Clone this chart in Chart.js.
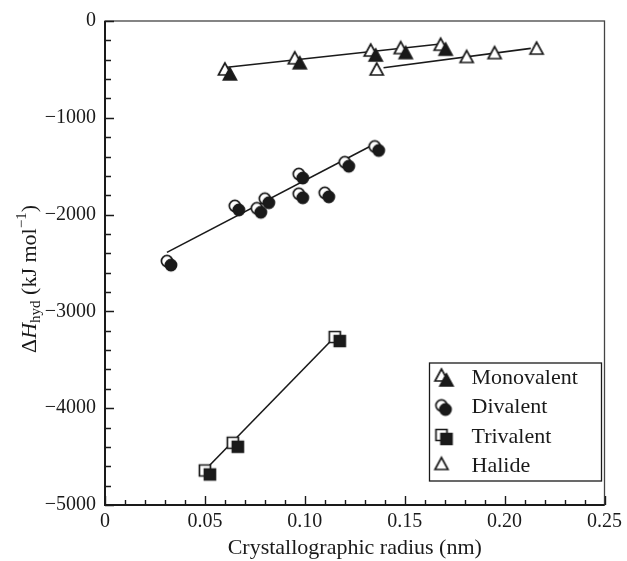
<!DOCTYPE html>
<html>
<head>
<meta charset="utf-8">
<script src="https://cdn.jsdelivr.net/npm/chart.js@4.4.0/dist/chart.umd.min.js"></script>
<style>
    html, body { margin: 0; padding: 0; background: #fff; }
    #wrap { width: 627px; height: 561px; position: relative; }
</style>
</head>
<body>
<div id="wrap"><canvas id="hydChart"></canvas></div>
<script>
// Hydration enthalpy vs crystallographic radius

const seriesNames = ['Monovalent', 'Divalent', 'Trivalent', 'Halide'];

const monoRadius = [0.060, 0.095, 0.133, 0.148, 0.168];
const monoEnthalpy = [-505, -390, -310, -285, -250];

const diRadius = [0.031, 0.065, 0.076, 0.080, 0.097, 0.097, 0.110, 0.120, 0.135];
const diEnthalpy = [-2480, -1910, -1935, -1836, -1581, -1785, -1775, -1459, -1296];

const triRadius = [0.050, 0.064, 0.115];
const triEnthalpy = [-4643, -4357, -3265];

const halRadius = [0.136, 0.181, 0.195, 0.216];
const halEnthalpy = [-506, -377, -337, -290];

// straight fit lines, end points
const monoFitX = [0.060, 0.169];
const monoFitY = [-480, -235];
const diFitX = [0.031, 0.1335];
const diFitY = [-2390, -1286];
const triFitX = [0.0513, 0.1135];
const triFitY = [-4612, -3295];
const halFitX = [0.1394, 0.2131];
const halFitY = [-483, -283];

const xTicks = [0, 0.05, 0.10, 0.15, 0.20, 0.25];
const yTicks = [0, -1000, -2000, -3000, -4000, -5000];

const FONT = "'Liberation Serif', 'Times New Roman', serif";
const INK = '#1a1a1a';

function pairs(xs, ys) {
    return xs.map((x, i) => ({ x: x, y: ys[i] }));
}

// marker: open shape at the point, filled copy offset down-right
function shapePath(ctx, shape, cx, cy) {
    ctx.beginPath();
    if (shape === 'triangle') {
        ctx.moveTo(cx, cy - 7);
        ctx.lineTo(cx - 6.5, cy + 5);
        ctx.lineTo(cx + 6.5, cy + 5);
        ctx.closePath();
    } else if (shape === 'circle') {
        ctx.arc(cx, cy, 5.6, 0, Math.PI * 2);
    } else {
        ctx.rect(cx - 5.5, cy - 5.5, 11, 11);
    }
}

function makeMarker(shape, filled) {
    const c = document.createElement('canvas');
    c.width = 32; c.height = 32;
    const ctx = c.getContext('2d');
    ctx.lineWidth = 1.7;
    ctx.strokeStyle = INK;
    ctx.fillStyle = '#fff';
    shapePath(ctx, shape, 16, 16);
    ctx.fill();
    ctx.stroke();
    if (filled) {
        const d = shape === 'circle' ? 4 : 5;
        ctx.fillStyle = INK;
        shapePath(ctx, shape, 16 + d, 16 + (shape === 'square' ? 4 : d));
        ctx.fill();
        ctx.stroke();
    }
    return c;
}

const markers = [
    makeMarker('triangle', true),
    makeMarker('circle', true),
    makeMarker('square', true),
    makeMarker('triangle', false)
];

function pointSet(label, xs, ys, img) {
    return {
        label: label,
        data: pairs(xs, ys),
        pointStyle: img,
        pointRadius: 7,
        showLine: false,
        order: 1
    };
}

function fitSet(xs, ys) {
    return {
        label: '',
        data: pairs(xs, ys),
        showLine: true,
        borderColor: INK,
        borderWidth: 1.6,
        pointRadius: 0,
        order: 2
    };
}

// frame, inward ticks, y title and legend
const decorPlugin = {
    id: 'decor',
    afterDatasetsDraw(chart) {
        const ctx = chart.ctx;
        const a = chart.chartArea;
        const xs = chart.scales.x, ys = chart.scales.y;
        ctx.save();
        ctx.strokeStyle = '#444';
        ctx.lineWidth = 1.3;
        ctx.strokeRect(a.left, a.top, a.right - a.left, a.bottom - a.top);
        ctx.strokeStyle = INK;
        ctx.lineWidth = 2;
        ctx.beginPath();
        ctx.moveTo(a.left, a.top);
        ctx.lineTo(a.left, a.bottom);
        ctx.lineTo(a.right, a.bottom);
        ctx.stroke();

        ctx.lineWidth = 1.4;
        ctx.beginPath();
        for (let i = 0; i <= 25; i++) {
            const px = Math.round(xs.getPixelForValue(i / 100)) + 0.5;
            const len = i % 5 === 0 ? 9 : 5;
            ctx.moveTo(px, a.bottom);
            ctx.lineTo(px, a.bottom - len);
        }
        for (let i = 0; i <= 25; i++) {
            const py = Math.round(ys.getPixelForValue(-i * 200)) + 0.5;
            const len = i % 5 === 0 ? 9 : 6;
            ctx.moveTo(a.left, py);
            ctx.lineTo(a.left + len, py);
        }
        ctx.stroke();

        // y axis title: ΔH_hyd (kJ mol^-1)
        const parts = [
            { t: '\u0394', f: '22px ' + FONT, dy: 0 },
            { t: 'H', f: 'italic 22px ' + FONT, dy: 0 },
            { t: 'hyd', f: '15px ' + FONT, dy: 6 },
            { t: ' (kJ mol', f: '22px ' + FONT, dy: 0 },
            { t: '\u22121', f: '15px ' + FONT, dy: -8 },
            { t: ')', f: '22px ' + FONT, dy: 0 }
        ];
        let total = 0;
        parts.forEach(p => { ctx.font = p.f; p.w = ctx.measureText(p.t).width; total += p.w; });
        ctx.translate(30, 279);
        ctx.rotate(-Math.PI / 2);
        ctx.fillStyle = INK;
        ctx.textBaseline = 'middle';
        let cx = -total / 2;
        parts.forEach(p => { ctx.font = p.f; ctx.fillText(p.t, cx, p.dy); cx += p.w; });
        ctx.restore();

        // legend box in lower right of plot
        ctx.save();
        const bx = a.right - 175, by = a.bottom - 142, bw = 172, bh = 118;
        ctx.fillStyle = '#fff';
        ctx.fillRect(bx, by, bw, bh);
        ctx.strokeStyle = INK;
        ctx.lineWidth = 1.3;
        ctx.strokeRect(bx, by, bw, bh);
        ctx.font = '22px ' + FONT;
        ctx.fillStyle = INK;
        ctx.textBaseline = 'middle';
        seriesNames.forEach((name, i) => {
            const ry = by + 15 + i * 29.5;
            ctx.drawImage(markers[i], bx + 12 - 16, ry - 2 - 16);
            ctx.fillText(name, bx + 42, ry);
        });
        ctx.restore();
    }
};

const ctx = document.getElementById('hydChart').getContext('2d');
new Chart(ctx, {
    type: 'scatter',
    data: {
        datasets: [
            fitSet(monoFitX, monoFitY),
            fitSet(diFitX, diFitY),
            fitSet(triFitX, triFitY),
            fitSet(halFitX, halFitY),
            pointSet(seriesNames[0], monoRadius, monoEnthalpy, markers[0]),
            pointSet(seriesNames[1], diRadius, diEnthalpy, markers[1]),
            pointSet(seriesNames[2], triRadius, triEnthalpy, markers[2]),
            pointSet(seriesNames[3], halRadius, halEnthalpy, markers[3])
        ]
    },
    options: {
        responsive: true,
        maintainAspectRatio: false,
        animation: false,
        layout: { padding: { top: 15, right: 20, left: 0, bottom: 0 } },
        plugins: {
            legend: { display: false },
            tooltip: { enabled: false }
        },
        scales: {
            x: {
                type: 'linear',
                min: 0,
                max: 0.25,
                afterFit: (scale) => { scale.height = 56; },
                afterBuildTicks: (scale) => { scale.ticks = xTicks.map(v => ({ value: v })); },
                ticks: {
                    font: { family: FONT, size: 20 },
                    color: INK,
                    padding: 5,
                    maxRotation: 0,
                    callback: (v) => v === 0 ? '0' : v.toFixed(2)
                },
                grid: { display: false, drawTicks: false },
                border: { display: false },
                title: {
                    display: true,
                    text: 'Crystallographic radius (nm)',
                    font: { family: FONT, size: 22 },
                    color: INK,
                    padding: { top: 0, bottom: 0 }
                }
            },
            y: {
                type: 'linear',
                min: -5000,
                max: 0,
                afterFit: (scale) => { scale.width = 105; },
                afterBuildTicks: (scale) => { scale.ticks = yTicks.map(v => ({ value: v })); },
                ticks: {
                    font: { family: FONT, size: 20 },
                    color: INK,
                    padding: 9,
                    callback: (v) => v === 0 ? '0' : '\u2212' + Math.abs(v)
                },
                grid: { display: false, drawTicks: false },
                border: { display: false }
            }
        }
    },
    plugins: [decorPlugin]
});
</script>
</body>
</html>
